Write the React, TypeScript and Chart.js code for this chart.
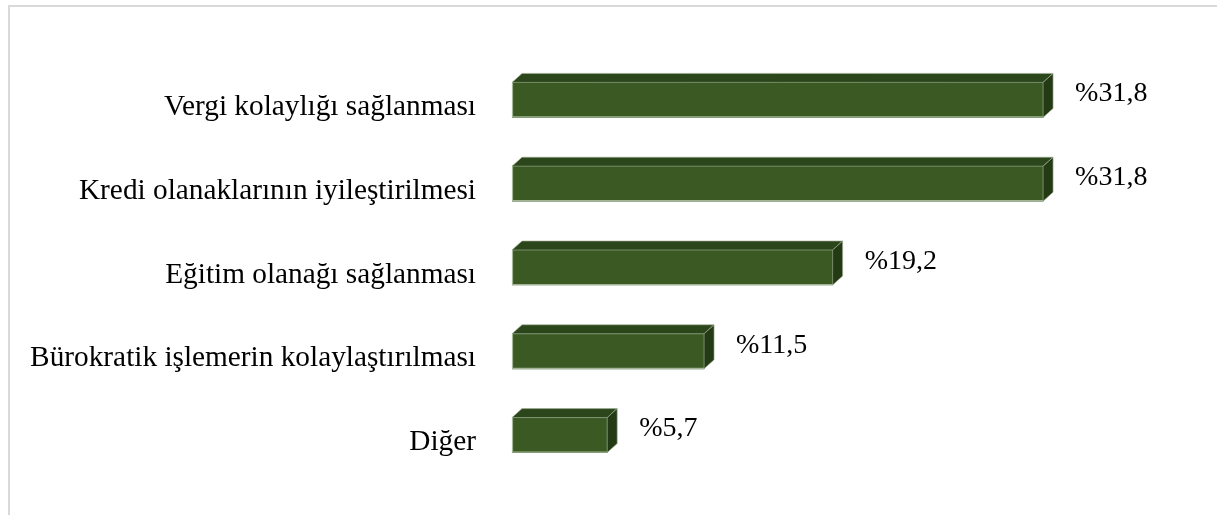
import React, { useEffect, useRef } from "react";
import { Chart, registerables } from "chart.js";

Chart.register(...registerables);

const categories = [
  "Vergi kolaylığı sağlanması",
  "Kredi olanaklarının iyileştirilmesi",
  "Eğitim olanağı sağlanması",
  "Bürokratik işlemerin kolaylaştırılması",
  "Diğer",
];
const values = [31.8, 31.8, 19.2, 11.5, 5.7];
const axisMin = 0;
const axisMax = 40;

const FRONT = "#3a5923";
const TOP = "#2c461b";
const SIDE = "#243a15";
const EDGE = "#a3b596";
const DX = 10;
const DY = 9;
const FONT = "'Liberation Serif', 'Times New Roman', serif";

const fmt = (v: number) => "%" + v.toFixed(1).replace(".", ",");

const bar3d = {
  id: "bar3d",
  afterDatasetsDraw(chart: any) {
    const ctx = chart.ctx;
    const meta = chart.getDatasetMeta(0);
    ctx.save();
    meta.data.forEach((el: any, i: number) => {
      const { x, y, base, height } = el.getProps(["x", "y", "base", "height"], true);
      const x0 = Math.min(base, x);
      const x1 = Math.max(base, x);
      const yT = y - height / 2;
      const yB = y + height / 2;
      // top face
      ctx.beginPath();
      ctx.moveTo(x0, yT);
      ctx.lineTo(x0 + DX, yT - DY);
      ctx.lineTo(x1 + DX, yT - DY);
      ctx.lineTo(x1, yT);
      ctx.closePath();
      ctx.fillStyle = TOP;
      ctx.fill();
      ctx.strokeStyle = "rgba(160,175,150,0.8)";
      ctx.lineWidth = 0.8;
      ctx.stroke();
      // side face
      ctx.beginPath();
      ctx.moveTo(x1, yT);
      ctx.lineTo(x1 + DX, yT - DY);
      ctx.lineTo(x1 + DX, yB - DY);
      ctx.lineTo(x1, yB);
      ctx.closePath();
      ctx.fillStyle = SIDE;
      ctx.fill();
      ctx.stroke();
      // light edges of front face
      ctx.beginPath();
      ctx.moveTo(x0 + 0.5, yT);
      ctx.lineTo(x0 + 0.5, yB - 0.5);
      ctx.lineTo(x1, yB - 0.5);
      ctx.strokeStyle = EDGE;
      ctx.lineWidth = 1.2;
      ctx.stroke();
      // value label
      ctx.fillStyle = "#000";
      ctx.font = `28px ${FONT}`;
      ctx.textAlign = "left";
      ctx.textBaseline = "middle";
      ctx.fillText(fmt(values[i]), x1 + DX + 22, y - 6);
    });
    ctx.restore();
  },
};

export default function App() {
  const ref = useRef<HTMLCanvasElement | null>(null);
  useEffect(() => {
    if (!ref.current) return;
    const chart = new Chart(ref.current, {
      type: "bar",
      data: {
        labels: categories,
        datasets: [
          {
            data: values,
            backgroundColor: FRONT,
            borderWidth: 0,
            barThickness: 35,
          },
        ],
      },
      options: {
        indexAxis: "y",
        responsive: false,
        animation: false,
        devicePixelRatio: 1,
        layout: { padding: { top: 58, bottom: 38, left: 0, right: 37 } },
        plugins: { legend: { display: false }, tooltip: { enabled: false } },
        scales: {
          x: { display: false, min: axisMin, max: axisMax },
          y: {
            position: "left",
            grid: { display: false, drawTicks: false, tickLength: 0 },
            border: { display: false },
            ticks: {
              color: "#000",
              font: { family: FONT, size: 29.3 },
              padding: 36,
              labelOffset: 7.5,
              autoSkip: false,
            },
            afterFit: (s: any) => {
              s.width = 512;
              s.paddingTop = 0;
              s.paddingBottom = 0;
            },
          },
        },
      } as any,
      plugins: [bar3d],
    });
    return () => chart.destroy();
  }, []);
  return (
    <div style={{ position: "fixed", left: 0, top: 0, width: 1217, height: 515, background: "#fff", overflow: "hidden" }}>
      <div
        style={{
          position: "absolute",
          left: 8,
          top: 5,
          width: 1400,
          height: 700,
          borderLeft: "2px solid #d9d9d9",
          borderTop: "2px solid #d9d9d9",
        }}
      />
      <canvas ref={ref} width={1217} height={515} style={{ position: "absolute", left: 0, top: 0 }} />
    </div>
  );
}
